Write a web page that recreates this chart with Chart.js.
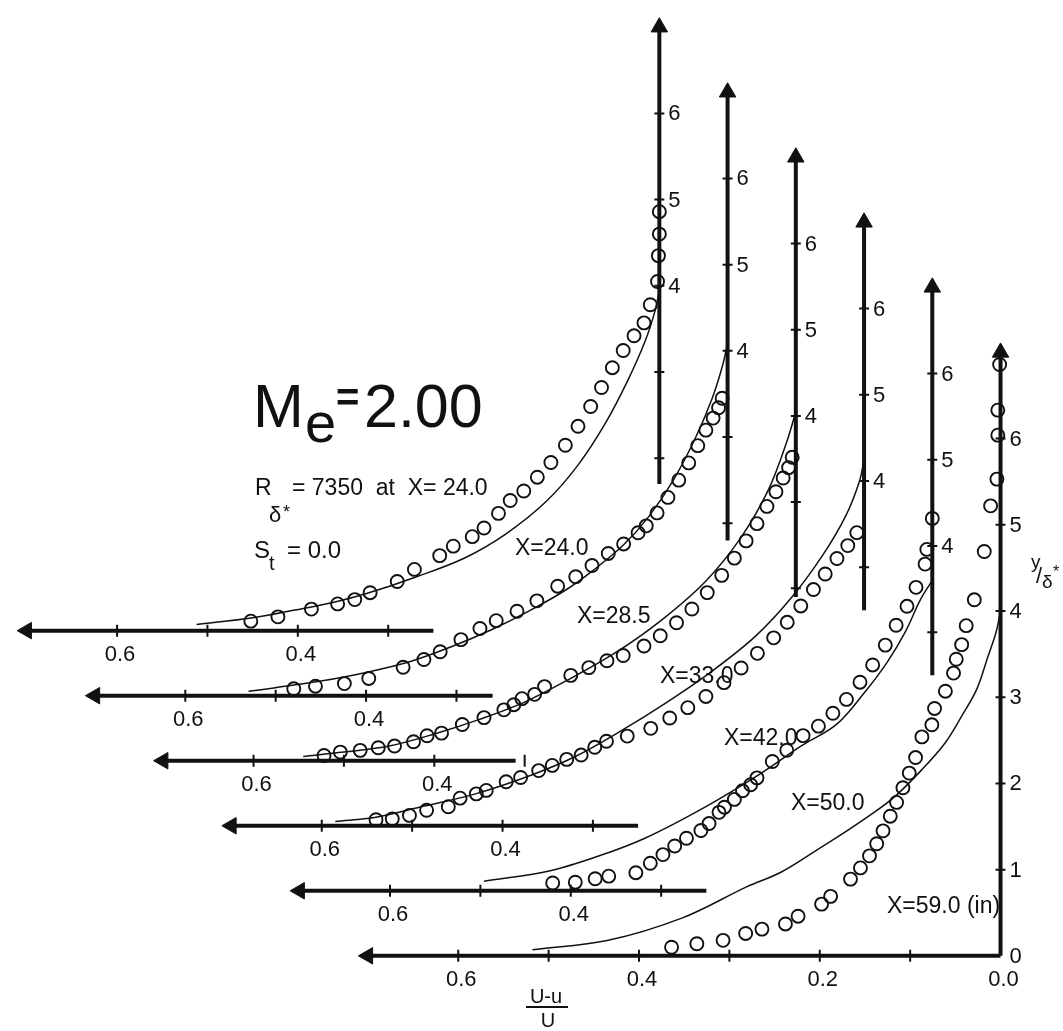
<!DOCTYPE html>
<html>
<head>
<meta charset="utf-8">
<script src="https://cdn.jsdelivr.net/npm/chart.js@4.4.1/dist/chart.umd.min.js"></script>
<style>
  html, body { margin: 0; padding: 0; background: #fff; }
  #wrap { width: 1063px; height: 1031px; position: relative; }
</style>
</head>
<body>
<div id="wrap"><canvas id="profiles"></canvas></div>
<script>
// stations, upstream to downstream
const stations = ['X=24.0', 'X=28.5', 'X=33.0', 'X=42.0', 'X=50.0', 'X=59.0 (in)'];

// measured points: [ (U-u)/U , y/delta* ]
const measured24 = [[0.452,0.11],[0.422,0.16],[0.385,0.25],[0.356,0.31],[0.337,0.36],[0.320,0.44],[0.290,0.57],[0.271,0.71],[0.243,0.87],[0.228,0.98],[0.207,1.09],[0.194,1.19],[0.178,1.36],[0.165,1.51],[0.150,1.62],[0.135,1.78],[0.120,1.95],[0.104,2.15],[0.090,2.37],[0.076,2.60],[0.064,2.82],[0.052,3.05],[0.040,3.25],[0.028,3.42],[0.017,3.57],[0.010,3.78],[0.002,4.05],[0.001,4.35],[0.0,4.6],[0.0,4.86]];
const measured285 = [[0.480,0.08],[0.456,0.11],[0.424,0.14],[0.397,0.20],[0.359,0.33],[0.336,0.42],[0.318,0.51],[0.295,0.65],[0.274,0.78],[0.256,0.87],[0.233,0.98],[0.211,1.10],[0.188,1.27],[0.168,1.38],[0.150,1.51],[0.132,1.65],[0.115,1.76],[0.099,1.89],[0.090,1.97],[0.078,2.12],[0.066,2.30],[0.054,2.50],[0.043,2.70],[0.033,2.90],[0.024,3.08],[0.016,3.22],[0.010,3.34],[0.006,3.45]];
const measured33 = [[0.522,0.06],[0.504,0.10],[0.482,0.12],[0.462,0.15],[0.444,0.17],[0.423,0.22],[0.408,0.29],[0.392,0.32],[0.369,0.42],[0.345,0.50],[0.323,0.59],[0.312,0.65],[0.303,0.72],[0.289,0.77],[0.278,0.86],[0.249,0.99],[0.229,1.08],[0.209,1.16],[0.191,1.22],[0.168,1.33],[0.150,1.45],[0.132,1.60],[0.115,1.76],[0.098,1.95],[0.082,2.15],[0.068,2.35],[0.055,2.55],[0.043,2.75],[0.032,2.95],[0.022,3.12],[0.014,3.28],[0.008,3.40],[0.004,3.52]];
const measured42 = [[0.540,0.07],[0.522,0.08],[0.503,0.12],[0.484,0.18],[0.460,0.22],[0.447,0.32],[0.429,0.37],[0.418,0.41],[0.396,0.51],[0.380,0.56],[0.360,0.64],[0.345,0.70],[0.329,0.77],[0.313,0.82],[0.298,0.91],[0.285,0.98],[0.262,1.04],[0.236,1.13],[0.215,1.25],[0.195,1.37],[0.175,1.50],[0.155,1.66],[0.136,1.83],[0.118,2.00],[0.100,2.18],[0.085,2.36],[0.070,2.55],[0.056,2.74],[0.043,2.92],[0.030,3.10],[0.018,3.25],[0.008,3.40]];
const measured50 = [[0.420,0.09],[0.395,0.10],[0.373,0.14],[0.358,0.17],[0.328,0.21],[0.312,0.32],[0.298,0.42],[0.285,0.52],[0.272,0.61],[0.256,0.70],[0.247,0.78],[0.236,0.91],[0.230,0.97],[0.219,1.06],[0.210,1.16],[0.201,1.23],[0.194,1.31],[0.177,1.50],[0.161,1.63],[0.143,1.80],[0.126,1.91],[0.110,2.06],[0.095,2.22],[0.080,2.42],[0.066,2.62],[0.052,2.85],[0.040,3.08],[0.028,3.30],[0.018,3.52],[0.008,3.79],[0.006,3.96],[0.0,4.32]];
const measured59 = [[0.364,0.10],[0.336,0.14],[0.307,0.18],[0.282,0.26],[0.264,0.31],[0.238,0.37],[0.224,0.46],[0.198,0.60],[0.188,0.69],[0.166,0.89],[0.155,1.02],[0.145,1.16],[0.137,1.30],[0.130,1.45],[0.122,1.62],[0.115,1.78],[0.108,1.95],[0.101,2.12],[0.094,2.30],[0.087,2.54],[0.076,2.68],[0.073,2.87],[0.061,3.07],[0.052,3.28],[0.049,3.44],[0.043,3.61],[0.038,3.83],[0.029,4.13],[0.018,4.69],[0.011,5.22],[0.004,5.53],[0.003,6.04],[0.003,6.33],[0.001,6.86]];

// theory curves, same units
const theory24 = [[0.512,0.07],[0.45,0.15],[0.403,0.24],[0.36,0.33],[0.324,0.43],[0.27,0.62],[0.216,0.84],[0.17,1.12],[0.125,1.5],[0.09,1.92],[0.06,2.4],[0.035,2.9],[0.016,3.35],[0.005,3.7],[0,3.95]];
const theory285 = [[0.53,0.05],[0.502,0.09],[0.45,0.17],[0.40,0.27],[0.35,0.40],[0.305,0.57],[0.26,0.77],[0.22,0.98],[0.18,1.22],[0.148,1.46],[0.115,1.75],[0.087,2.08],[0.06,2.5],[0.036,2.98],[0.017,3.45],[0.005,3.85],[0,4.1]];
const theory33 = [[0.545,0.05],[0.50,0.10],[0.45,0.17],[0.40,0.31],[0.35,0.48],[0.30,0.68],[0.25,0.95],[0.20,1.25],[0.15,1.62],[0.10,2.08],[0.06,2.6],[0.03,3.15],[0.01,3.7],[0,4.05]];
const theory42 = [[0.585,0.05],[0.54,0.10],[0.49,0.22],[0.43,0.37],[0.37,0.58],[0.32,0.80],[0.269,1.10],[0.22,1.42],[0.17,1.78],[0.12,2.2],[0.08,2.65],[0.045,3.15],[0.02,3.6],[0.005,4.0],[0,4.25]];
const theory50 = [[0.496,0.11],[0.424,0.23],[0.37,0.40],[0.318,0.61],[0.25,0.98],[0.19,1.36],[0.145,1.68],[0.106,1.93],[0.075,2.3],[0.05,2.65],[0.03,3.0],[0.013,3.38],[0,3.6]];
const theory59 = [[0.518,0.07],[0.434,0.18],[0.352,0.44],[0.281,0.80],[0.243,0.97],[0.20,1.25],[0.16,1.52],[0.12,1.82],[0.087,2.16],[0.062,2.46],[0.043,2.78],[0.026,3.1],[0.014,3.47],[0.005,3.75],[0,4.0]];

// tick values and labels
const hTicks = [0.3, 0.4, 0.5, 0.6];
const hTickLabels = ['0.6', '0.4'];
const lastHTicks = [0.1, 0.2, 0.3, 0.4, 0.5, 0.6];
const lastHTickLabels = ['0.6', '0.4', '0.2', '0.0'];
const vTicks = [2, 3, 4, 5, 6];
const vTickLabels = ['4', '5', '6'];
const lastVTicks = [1, 2, 3, 4, 5, 6];
const lastVTickLabels = ['0', '1', '2', '3', '4', '5', '6'];

const measured = [measured24, measured285, measured33, measured42, measured50, measured59];
const theory = [theory24, theory285, theory33, theory42, theory50, theory59];

// each profile sits on its own frame, shifted down-right from the previous one
const dxStep = 0.0755, dyStep = 0.7545;
const hAxisEnd = [0.25, 0.26, 0.31, 0.25, 0.25, 0.0];
const vAxisStart = [1.7, 1.8, 1.9, 2.5, 2.5, 0.0];
const hArrow = 0.70, vArrow = 7.0;

const ink = '#111';

function toGlobal(k, p) {
  const s = stations.length - 1 - k;
  return { x: p[0] + s * dxStep, y: p[1] + s * dyStep };
}

const datasets = [];
stations.forEach(function(st, k) {
  const last = k === stations.length - 1;
  datasets.push({
    label: st + ' theory',
    data: theory[k].map(p => toGlobal(k, p)),
    showLine: true, borderColor: ink, borderWidth: 1.5,
    pointRadius: 0, tension: 0.35, fill: false
  });
  datasets.push({
    label: st,
    data: measured[k].map(p => toGlobal(k, p)),
    showLine: false, pointStyle: 'circle', pointRadius: 6.5,
    borderColor: ink, borderWidth: 1.9, backgroundColor: 'rgba(0,0,0,0)'
  });
  datasets.push({
    data: [toGlobal(k, [hAxisEnd[k], 0]), toGlobal(k, [hArrow, 0])],
    showLine: true, borderColor: ink, borderWidth: 4, pointRadius: 0
  });
  datasets.push({
    data: [toGlobal(k, [0, vAxisStart[k]]), toGlobal(k, [0, vArrow])],
    showLine: true, borderColor: ink, borderWidth: 4, pointRadius: 0
  });
  datasets.push({
    data: [toGlobal(k, [hArrow, 0]), toGlobal(k, [0, vArrow])],
    showLine: false, pointStyle: 'triangle', pointRadius: 9.5,
    pointRotation: [-90, 0], backgroundColor: ink, borderColor: ink, borderWidth: 1
  });
  datasets.push({
    data: (last ? lastHTicks : hTicks).map(v => toGlobal(k, [v, 0])),
    showLine: false, pointStyle: 'line', pointRotation: 90, pointRadius: 6,
    borderColor: ink, borderWidth: 2
  });
  datasets.push({
    data: (last ? lastVTicks : vTicks.filter(v => v > vAxisStart[k])).map(v => toGlobal(k, [0, v])),
    showLine: false, pointStyle: 'line', pointRotation: 0, pointRadius: 5,
    borderColor: ink, borderWidth: 2
  });
});

const textPlugin = {
  id: 'texts',
  afterDraw(chart) {
    const ctx = chart.ctx;
    const xs = chart.scales.x, ys = chart.scales.y;
    const font = (px) => px + 'px "Liberation Sans", Arial, sans-serif';
    ctx.save();
    ctx.fillStyle = ink;

    // tick labels
    stations.forEach(function(st, k) {
      const last = k === stations.length - 1;
      ctx.font = font(22);
      ctx.textAlign = 'center';
      ctx.textBaseline = 'top';
      (last ? lastHTickLabels : hTickLabels).forEach(function(t) {
        const g = toGlobal(k, [parseFloat(t), 0]);
        ctx.fillText(t, xs.getPixelForValue(g.x) + 3, ys.getPixelForValue(g.y) + 13);
      });
      ctx.textAlign = 'left';
      ctx.textBaseline = 'middle';
      (last ? lastVTickLabels : vTickLabels).forEach(function(t) {
        const g = toGlobal(k, [0, parseFloat(t)]);
        ctx.fillText(t, xs.getPixelForValue(g.x) + 9, ys.getPixelForValue(g.y) + 1);
      });
    });

    // station labels
    ctx.textAlign = 'left';
    ctx.textBaseline = 'alphabetic';
    ctx.font = font(23);
    const labelAt = [[515, 555], [577, 623], [660, 683], [724, 745], [791, 810], [887, 913]];
    stations.forEach(function(st, k) {
      ctx.fillText(st, labelAt[k][0], labelAt[k][1]);
    });

    // title  M_e = 2.00
    ctx.font = font(61);
    ctx.fillText('M', 253, 427);
    ctx.font = font(56);
    ctx.fillText('e', 305, 442);
    ctx.font = 'bold ' + font(40);
    ctx.fillText('=', 336, 411);
    ctx.font = font(61);
    ctx.fillText('2.00', 364, 427);

    // R_delta* = 7350 at X=24.0
    ctx.font = font(23);
    ctx.fillText('R', 255, 495);
    ctx.font = font(22);
    ctx.fillText('\u03b4', 269, 522);
    ctx.font = font(18);
    ctx.fillText('*', 283, 518);
    ctx.font = font(23);
    ctx.fillText('= 7350  at  X= 24.0', 292, 495);

    // S_t = 0.0
    ctx.font = font(24);
    ctx.fillText('S', 254, 558);
    ctx.font = font(20);
    ctx.fillText('t', 269, 570);
    ctx.font = font(24);
    ctx.fillText('= 0.0', 287, 558);

    // y / delta*
    ctx.font = font(19);
    ctx.fillText('y', 1031, 568);
    ctx.font = font(22);
    ctx.fillText('/', 1036, 583);
    ctx.font = font(19);
    ctx.fillText('\u03b4', 1042, 588);
    ctx.font = font(16);
    ctx.fillText('*', 1053, 577);

    // (U-u)/U
    ctx.font = font(20);
    ctx.textAlign = 'center';
    ctx.fillText('U-u', 546, 1003);
    ctx.fillText('U', 548, 1027);
    ctx.fillRect(526, 1006, 42, 2);
    ctx.restore();
  }
};

new Chart(document.getElementById('profiles').getContext('2d'), {
  type: 'scatter',
  data: { datasets: datasets },
  options: {
    responsive: true,
    maintainAspectRatio: false,
    animation: false,
    layout: { padding: 0 },
    plugins: { legend: { display: false }, tooltip: { enabled: false } },
    scales: {
      x: { type: 'linear', reverse: true, min: -0.0575, max: 1.0954, display: false },
      y: { type: 'linear', min: -0.75, max: 10.966, display: false }
    }
  },
  plugins: [textPlugin]
});
</script>
</body>
</html>
